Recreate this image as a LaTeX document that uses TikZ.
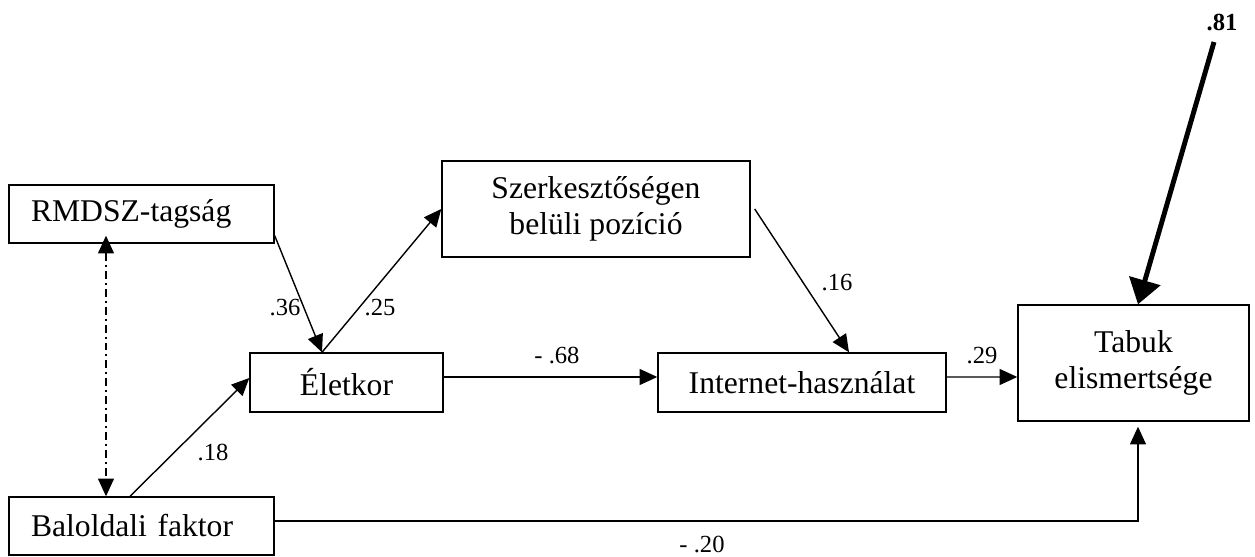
\documentclass[tikz,border=0pt]{standalone}
\usepackage{fontspec}
\setmainfont{Liberation Serif}
\usetikzlibrary{arrows.meta}

\tikzset{
    box/.style={draw, line width=0.8pt, align=center, inner sep=0pt,
        font=\fontsize{18}{20.5}\selectfont},
    leftbox/.style={box, align=left, text width=4.42cm,
        minimum width=5.3cm, minimum height=1.16cm},
    coef/.style={inner sep=0pt, font=\fontsize{14}{16}\selectfont},
    effect/.style={line width=0.8pt, -{Triangle[length=10pt,width=9pt]}},
}

\begin{document}
\begin{tikzpicture}
    \useasboundingbox (0,0) rectangle (25.1,11.14);

    % Variables
    \node[leftbox] (rmdsz) at (2.83,6.86) {RMDSZ-tagság};
    \node[leftbox] (balo) at (2.83,0.62) {Baloldali faktor};
    \node[box, minimum width=3.86cm, minimum height=1.18cm] (elet) at (6.93,3.49) {Életkor};
    \node[box, minimum width=6.16cm, minimum height=1.92cm] (szerk) at (11.92,6.96) {Szerkesztőségen\\belüli pozíció};
    \node[box, minimum width=5.76cm, minimum height=1.18cm] (inet) at (16.04,3.49) {Internet-használat};
    \node[box, minimum width=4.62cm, minimum height=2.32cm] (tabuk) at (22.67,3.88) {Tabuk\\elismertsége};

    % Residual
    \coordinate (err) at (24.28,10.30);
    \node[coef, font=\fontsize{14}{16}\selectfont\bfseries] (errlab) at (24.44,10.70) {.81};

    % Correlation
    \draw[line width=0.8pt, dash pattern=on 4.5pt off 2.3pt on 1.1pt off 2.3pt,
        {Triangle[length=10pt,width=9pt]}-{Triangle[length=10pt,width=9pt]}]
        ([xshift=-0.71cm,yshift=0.16cm]rmdsz.south) -- ([xshift=-0.71cm]balo.north);

    % Paths
    \draw[effect] ([yshift=0.16cm]rmdsz.south east) -- ([xshift=-0.49cm]elet.north);
    \draw[effect] ([xshift=-0.49cm]elet.north) -- (szerk.west);
    \draw[effect] ([xshift=-0.23cm]balo.north) -- ([yshift=0.09cm]elet.west);
    \draw[effect] ([yshift=0.11cm]elet.east) -- ([yshift=0.11cm]inet.west);
    \draw[effect] ([xshift=0.08cm]szerk.east) -- ([xshift=0.94cm]inet.north);
    \draw[effect] ([yshift=0.11cm]inet.east) -- ([yshift=-0.28cm]tabuk.west);
    \draw[effect] ([yshift=0.1cm]balo.east) -| ([xshift=0.09cm,yshift=-0.1cm]tabuk.south);
    \draw[line width=2.8pt, -{Triangle[length=14pt,width=18pt]}] (err) -- ([xshift=0.09cm]tabuk.north);

    % Coefficients
    \node[coef] (c36) at (5.70,4.98) {.36};
    \node[coef] (c25) at (7.60,4.98) {.25};
    \node[coef] (c18) at (4.26,2.10) {.18};
    \node[coef] (c68) at (11.14,4.04) {- .68};
    \node[coef] (c16) at (16.74,5.48) {.16};
    \node[coef] (c29) at (19.64,4.02) {.29};
    \node[coef] (c20) at (14.04,0.25) {- .20};
\end{tikzpicture}
\end{document}
